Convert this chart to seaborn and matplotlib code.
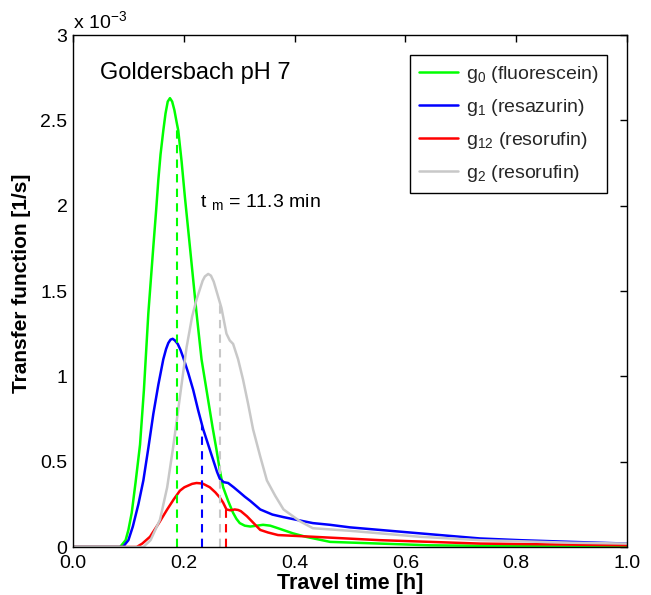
import numpy as np
import matplotlib
matplotlib.use("Agg")
import matplotlib.pyplot as plt
import seaborn as sns

# ---- data (transfer functions in units of 1e-3 1/s) ----
g0_t = [0, 0.085, 0.095, 0.100, 0.106, 0.113, 0.121, 0.128, 0.136, 0.145, 0.150, 0.154, 0.158, 0.163,
        0.167, 0.171, 0.175, 0.179, 0.183, 0.187, 0.190, 0.196, 0.202, 0.211, 0.223, 0.232, 0.244,
        0.252, 0.259, 0.265, 0.271, 0.280, 0.289, 0.295, 0.301, 0.310, 0.320, 0.332, 0.343, 0.356,
        0.370, 0.397, 0.420, 0.464, 0.554, 0.644, 0.8, 1.0]
g0_v = [0, 0, 0.04, 0.10, 0.20, 0.38, 0.60, 0.92, 1.37, 1.76, 1.97, 2.15, 2.30, 2.44,
        2.54, 2.61, 2.63, 2.61, 2.56, 2.49, 2.44, 2.26, 2.05, 1.76, 1.37, 1.10, 0.86,
        0.70, 0.57, 0.45, 0.35, 0.27, 0.20, 0.165, 0.14, 0.125, 0.12, 0.125, 0.13, 0.125,
        0.11, 0.08, 0.06, 0.03, 0.02, 0.01, 0.005, 0.0]

g1_t = [0, 0.09, 0.10, 0.108, 0.118, 0.127, 0.136, 0.145, 0.154, 0.163, 0.168, 0.172, 0.176, 0.180,
        0.184, 0.189, 0.194, 0.199, 0.208, 0.217, 0.226, 0.235, 0.244, 0.253, 0.260, 0.265, 0.272,
        0.280, 0.290, 0.301, 0.310, 0.320, 0.338, 0.36, 0.38, 0.41, 0.433, 0.464, 0.5, 0.554,
        0.626, 0.735, 0.807, 0.9, 1.0]
g1_v = [0, 0, 0.04, 0.12, 0.25, 0.39, 0.58, 0.78, 0.95, 1.10, 1.16, 1.195, 1.215, 1.22,
        1.21, 1.19, 1.155, 1.11, 1.02, 0.92, 0.80, 0.69, 0.60, 0.51, 0.44, 0.40, 0.38,
        0.375, 0.35, 0.32, 0.295, 0.27, 0.22, 0.19, 0.175, 0.155, 0.14, 0.13, 0.115, 0.10,
        0.08, 0.05, 0.04, 0.03, 0.02]

g12_t = [0, 0.115, 0.125, 0.139, 0.155, 0.17, 0.182, 0.193, 0.201, 0.208, 0.215, 0.223, 0.230, 0.235,
         0.241, 0.247, 0.257, 0.265, 0.271, 0.277, 0.284, 0.292, 0.298, 0.303, 0.314, 0.326, 0.338,
         0.352, 0.370, 0.433, 0.554, 0.735, 1.0]
g12_v = [0, 0, 0.02, 0.06, 0.14, 0.22, 0.28, 0.33, 0.35, 0.36, 0.37, 0.375, 0.373, 0.37,
         0.36, 0.35, 0.32, 0.29, 0.26, 0.22, 0.215, 0.22, 0.217, 0.21, 0.18, 0.14, 0.10,
         0.085, 0.07, 0.06, 0.04, 0.02, 0.01]

g2_t = [0, 0.127, 0.14, 0.157, 0.17, 0.181, 0.193, 0.205, 0.215, 0.223, 0.229, 0.234, 0.238, 0.244,
        0.249, 0.254, 0.259, 0.268, 0.277, 0.283, 0.289, 0.298, 0.307, 0.316, 0.325, 0.338, 0.35,
        0.365, 0.38, 0.41, 0.433, 0.5, 0.554, 0.626, 0.735, 0.9, 1.0]
g2_v = [0, 0, 0.04, 0.16, 0.35, 0.59, 0.88, 1.17, 1.35, 1.45, 1.51, 1.56, 1.585, 1.60,
        1.59, 1.555, 1.50, 1.40, 1.25, 1.21, 1.19, 1.10, 0.98, 0.84, 0.69, 0.53, 0.39,
        0.30, 0.22, 0.15, 0.11, 0.095, 0.08, 0.06, 0.04, 0.025, 0.02]

# mean travel times [h]
tm_g0, tm_g1, tm_g12, tm_g2 = 0.188, 0.233, 0.277, 0.265

labels = [r"g$_{\mathregular{0}}$ (fluorescein)", r"g$_{\mathregular{1}}$ (resazurin)",
          r"g$_{\mathregular{12}}$ (resorufin)", r"g$_{\mathregular{2}}$ (resorufin)"]
colors = ["#00ff00", "#0000ff", "#ff0000", "#c8c8c8"]

x_ticks = [0.0, 0.2, 0.4, 0.6, 0.8, 1.0]
y_ticks = [0, 0.5, 1, 1.5, 2, 2.5, 3]
y_tick_labels = ["0", "0.5", "1", "1.5", "2", "2.5", "3"]

# ---- style ----
sns.set_theme(style="white")
plt.rcParams["font.family"] = ["Liberation Sans", "DejaVu Sans"]
plt.rcParams["mathtext.fontset"] = "custom"
plt.rcParams["mathtext.rm"] = "Liberation Sans"
plt.rcParams["mathtext.it"] = "Liberation Sans"

fig = plt.figure(figsize=(6.51, 5.95), dpi=100)
ax = fig.add_axes([73 / 651, 1 - 547 / 595, 554 / 651, 512 / 595])

series = [(g0_t, g0_v, tm_g0), (g1_t, g1_v, tm_g1), (g12_t, g12_v, tm_g12), (g2_t, g2_v, tm_g2)]
for (t, v, tm), lab, col in zip(series, labels, colors):
    sns.lineplot(x=t, y=v, ax=ax, color=col, lw=1.8, label=lab, sort=False, estimator=None)
for line in ax.get_lines():
    line.set_solid_joinstyle("round")

for (t, v, tm), col in zip(series, colors):
    top = np.interp(tm, t, v)
    ax.vlines(tm, 0, top, colors=col, linestyles=(0, (4, 3)), lw=1.5)

ax.set_xlim(0, 1)
ax.set_ylim(0, 3)
ax.set_xticks(x_ticks)
ax.set_xticklabels([f"{v:.1f}" for v in x_ticks])
ax.set_yticks(y_ticks)
ax.set_yticklabels(y_tick_labels)
ax.tick_params(direction="in", top=True, right=True, length=5, width=1,
               labelsize=14, color="black", labelcolor="black")
ax.tick_params(axis="x", pad=6)
ax.tick_params(axis="y", pad=4)
for s in ax.spines.values():
    s.set_color("black")
    s.set_linewidth(1.0)

ax.set_xlabel("Travel time [h]", fontsize=15.5, fontweight="bold", color="black")
ax.set_ylabel("Transfer function [1/s]", fontsize=15, fontweight="bold", color="black")
ax.xaxis.set_label_coords(0.5, -0.05)
ax.yaxis.set_label_coords(-0.075, 0.515)

ax.text(0.049, 2.78, "Goldersbach pH 7", fontsize=17, va="center", ha="left", color="black")
ax.text(0.229, 2.02, r"t $_{\mathregular{m}}$ = 11.3 min", fontsize=14, va="center", ha="left", color="black")
ax.text(0.0, 1.005, r"x 10$^{\mathregular{-3}}$", transform=ax.transAxes, fontsize=14,
        va="bottom", ha="left", color="black")

leg = ax.legend(loc="upper right", bbox_to_anchor=(0.964, 0.961), borderaxespad=0,
                fontsize=14, frameon=True, fancybox=False, framealpha=1,
                handlelength=2.0, handletextpad=0.4, labelspacing=0.62, borderpad=0.45)
leg.get_frame().set_edgecolor("black")
leg.get_frame().set_linewidth(1.0)

fig.savefig("out.png", dpi=100)
